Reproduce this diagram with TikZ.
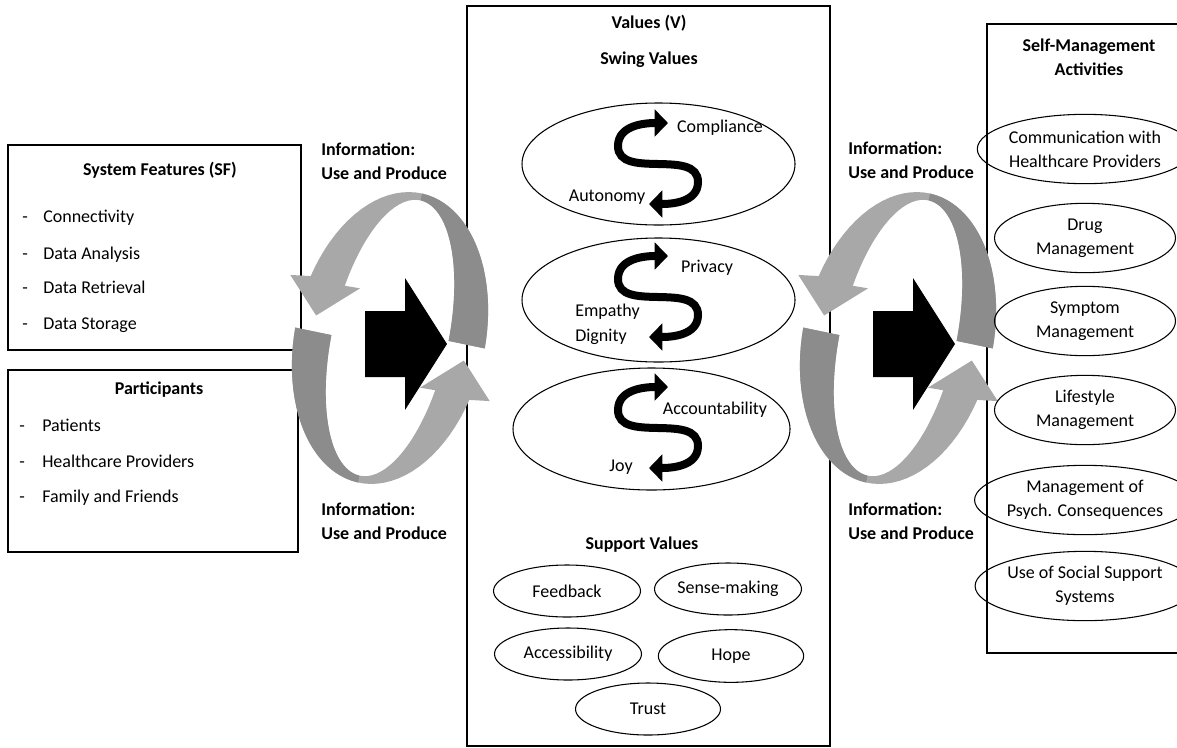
\documentclass[tikz,border=0pt]{standalone}
\usepackage{fontspec}
\setmainfont{Carlito}
\usetikzlibrary{arrows.meta}
\usetikzlibrary{shapes.geometric}

\definecolor{ringdark}{HTML}{8C8C8C}
\definecolor{ringlight}{HTML}{A8A8A8}

\newcommand{\basefont}{\fontsize{13.5}{18}\selectfont}
\tikzstyle{panel}=[draw, line width=1pt]
\tikzstyle{heading}=[font=\basefont\bfseries, inner sep=0pt, align=center]
\tikzstyle{item}=[anchor=west, inner sep=0pt, text height=9.5pt, text depth=3pt]
\tikzstyle{word}=[inner sep=0pt]
\tikzstyle{value}=[draw, ellipse, line width=0.8pt, inner sep=0pt, align=center]
\tikzstyle{swing}=[line width=6pt, {Triangle[length=10pt,width=20pt]}-{Triangle[length=10pt,width=20pt]}]

% one cycle of two bent arrows with the black arrow inside, #1 = x offset
\newcommand{\inforing}[1]{%
  \begin{scope}[shift={(#1,0)}]
    \begin{scope}[shift={(390,338)}, rotate=-12.5]
      \foreach \turn in {0,180}{
        \begin{scope}[rotate=\turn]
          \fill[ringlight] plot[domain=-4:-163, samples=40] ({95*cos(\x)},{148*sin(\x)})
            -- (-111,-40) -- (-77,-6) -- (-40,-42)
            -- plot[domain=-163:-4, samples=40] ({58*cos(\x)},{141*sin(\x)}) -- cycle;
          \fill[ringdark] plot[domain=-4:-90, samples=25] ({95*cos(\x)},{148*sin(\x)})
            -- plot[domain=-90:-4, samples=25] ({58*cos(\x)},{141*sin(\x)}) -- cycle;
        \end{scope}
      }
    \end{scope}
    \fill (365,311) -- (405,311) -- (405,278) -- (447,344) -- (405,410)
      -- (405,377) -- (365,377) -- cycle;
  \end{scope}
}

% S shaped double arrow, #1 = y offset
\newcommand{\swingarrow}[1]{%
  \begin{scope}[shift={(0,#1)}]
    \draw[swing] (668,123) to[out=180, in=90] (618,146)
      to[out=-90, in=90] (698,182)
      to[out=-90, in=0] (649,204);
  \end{scope}
}

\begin{document}
\begin{tikzpicture}[x=0.75pt, y=-0.75pt, font=\basefont]
  \useasboundingbox (0,0) rectangle (1177,747);

  % frames
  \draw[panel] (8,145) rectangle (301,350);
  \draw[panel] (8,370) rectangle (298,552);
  \draw[panel] (467,6) rectangle (830,746);
  \draw[panel] (1177,24) -- (987,24) -- (987,653) -- (1177,653);

  % system features and participants
  \node[heading] (sftitle) at (160,170) {System Features (SF)};
  \foreach \name/\ypos [count=\i] in {Connectivity/218, Data Analysis/255, Data Retrieval/289, Data Storage/325}{
    \node[item] (sfdash\i) at (22,\ypos) {-};
    \node[item] (sf\i) at (43,\ypos) {\name};
  }
  \node[heading] (parttitle) at (159,390) {Participants};
  \foreach \name/\ypos [count=\i] in {Patients/427, Healthcare Providers/463, Family and Friends/498}{
    \node[item] (partdash\i) at (19,\ypos) {-};
    \node[item] (part\i) at (42,\ypos) {\name};
  }

  % information cycles
  \inforing{0}
  \inforing{508}
  \node[heading, align=left, anchor=west] (infoTL) at (321,161) {Information:\\Use and Produce};
  \node[heading, align=left, anchor=west] (infoBL) at (321,521) {Information:\\Use and Produce};
  \node[heading, align=left, anchor=west] (infoTR) at (848,160) {Information:\\Use and Produce};
  \node[heading, align=left, anchor=west] (infoBR) at (848,521) {Information:\\Use and Produce};

  % values
  \node[heading] (valtitle) at (649,23) {Values (V)};
  \node[heading] (swingtitle) at (649,60) {Swing Values};
  \node[value, minimum width=204.75pt, minimum height=91.5pt] (swingA) at (658.5,164) {};
  \node[value, minimum width=204.75pt, minimum height=93pt] (swingB) at (658.5,300) {};
  \node[value, minimum width=207.75pt, minimum height=91.5pt] (swingC) at (651.5,429) {};
  \foreach \dy in {0,133,264}{
    \swingarrow{\dy}
  }
  \node[word] (compliance) at (720,128) {Compliance};
  \node[word] (autonomy) at (607,197) {Autonomy};
  \node[word] (privacy) at (707,268) {Privacy};
  \node[item] (empathy) at (575,312) {Empathy};
  \node[item] (dignity) at (575,337) {Dignity};
  \node[word] (accountability) at (715,410) {Accountability};
  \node[word] (joy) at (621,467) {Joy};

  \node[heading] (supporttitle) at (642,545) {Support Values};
  \node[value, minimum width=110.25pt, minimum height=39pt] (feedback) at (567,591) {Feedback};
  \node[value, minimum width=110.25pt, minimum height=39pt] (sense) at (728,589) {Sense-making};
  \node[value, minimum width=110.25pt, minimum height=39pt] (access) at (568,654) {Accessibility};
  \node[value, minimum width=109pt, minimum height=39.5pt] (hope) at (731,656) {Hope};
  \node[value, minimum width=108.75pt, minimum height=39pt] (trust) at (648,709) {Trust};

  % self-management activities
  \node[heading] (smtitle) at (1089,57.5) {Self-Management\\Activities};
  \foreach \name/\ypos [count=\i] in {Communication with\\Healthcare Providers/149, Drug\\Management/238,
      Symptom\\Management/321, Lifestyle\\Management/410,
      Management of\\Psych. Consequences/500, Use of Social Support\\Systems/586}
    \node[value, minimum width=135.75pt, minimum height=52pt] (activity\i) at (1085,\ypos) {\name};
\end{tikzpicture}
\end{document}
